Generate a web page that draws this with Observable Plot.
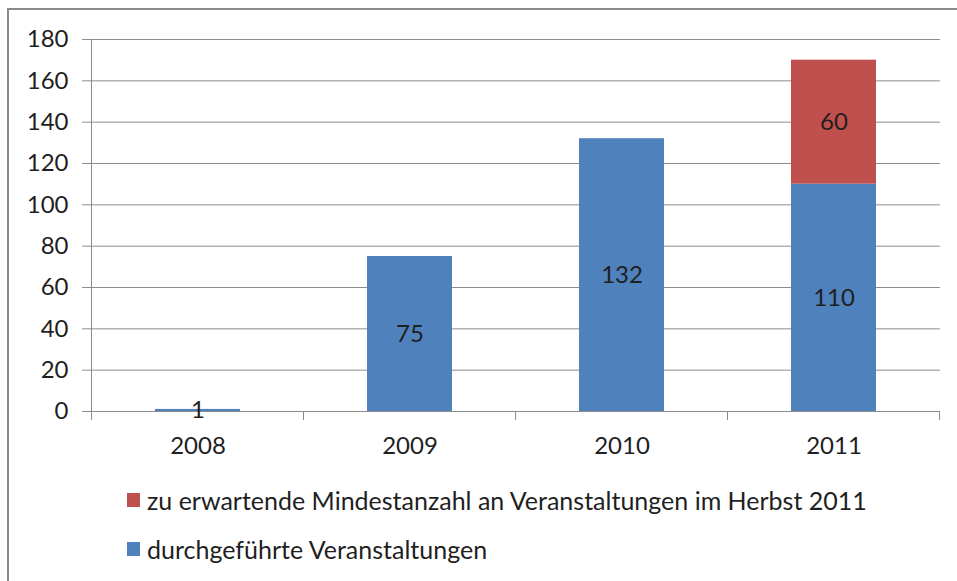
<!DOCTYPE html>
<html>
<head>
<meta charset="utf-8">
<script src="https://cdn.jsdelivr.net/npm/d3@7"></script>
<script src="https://cdn.jsdelivr.net/npm/@observablehq/plot@0.6"></script>
<style>
  html, body { margin: 0; padding: 0; background: #fff; overflow: hidden; }
  #wrap { position: relative; width: 957px; height: 581px; font-family: Lato, "Open Sans", sans-serif; }
  #frame { position: absolute; left: 7px; top: 8px; width: 1000px; height: 700px;
           border-left: 2px solid #8a8a8a; border-top: 2px solid #8a8a8a; }
  #chart { position: absolute; left: 0; top: 0; }
  #chart svg text { fill: #1f1f1f; }
  .legend { position: absolute; left: 127px; font-size: 25px; color: #1f1f1f; display: flex; align-items: center; white-space: nowrap; }
  .legend .sw { width: 13px; height: 14px; margin-right: 7px; }
</style>
</head>
<body>
<div id="wrap">
  <div id="frame"></div>
  <div id="chart"></div>
  <div id="legend"></div>
</div>
<script>
const years = ["2008", "2009", "2010", "2011"];
const durchgefuehrt = [1, 75, 132, 110];
const erwartet = [0, 0, 0, 60];
const seriesNames = ["durchgeführte Veranstaltungen", "zu erwartende Mindestanzahl an Veranstaltungen im Herbst 2011"];
const seriesColors = ["#4F81BD", "#C0504D"];
const yTicks = [0, 20, 40, 60, 80, 100, 120, 140, 160, 180];
const legendOrder = [1, 0];

const rows = [];
years.forEach((yr, i) => rows.push({year: yr, series: seriesNames[0], value: durchgefuehrt[i]}));
years.forEach((yr, i) => rows.push({year: yr, series: seriesNames[1], value: erwartet[i]}));
const data = rows.filter(d => d.value > 0);

const gridColor = "#8c8c8c";

function boundaryTicks(index, scales, values, dimensions) {
  const x = scales.x;
  const step = x(years[1]) - x(years[0]);
  const bw = typeof x.bandwidth === "function" ? x.bandwidth() : step * 0.4;
  const half = (step - bw) / 2;
  const xs = years.map(y => x(y) - half);
  xs.push(x(years[years.length - 1]) + bw + half);
  const y0 = dimensions.height - dimensions.marginBottom;
  const g = d3.create("svg:g");
  g.selectAll("line").data(xs).join("line")
    .attr("x1", d => d).attr("x2", d => d)
    .attr("y1", y0).attr("y2", y0 + 9)
    .attr("stroke", gridColor);
  g.append("line")
    .attr("x1", xs[0]).attr("x2", xs[0])
    .attr("y1", dimensions.marginTop).attr("y2", y0)
    .attr("stroke", gridColor);
  return g.node();
}

const chart = Plot.plot({
  width: 957,
  height: 468,
  marginLeft: 91,
  marginRight: 17,
  marginTop: 39,
  marginBottom: 57,
  style: {fontFamily: "Lato, 'Open Sans', sans-serif", fontSize: "24px", color: gridColor, background: "transparent"},
  x: {domain: years, paddingInner: 0.6, paddingOuter: 0.3, tickSize: 0, tickPadding: 25, label: null},
  y: {domain: [0, 180], ticks: yTicks, tickSize: 9, tickPadding: 14, label: null, tickFormat: d => String(d)},
  color: {domain: seriesNames, range: seriesColors},
  marks: [
    Plot.ruleY(yTicks, {stroke: gridColor, strokeWidth: 1}),
    Plot.barY(data, Plot.stackY({x: "year", y: "value", fill: "series"})),
    boundaryTicks,
    Plot.text(data, Plot.stackY({x: "year", y: "value", text: d => String(d.value), fill: "#1f1f1f", fontSize: 24}))
  ]
});
document.getElementById("chart").appendChild(chart);

const legend = document.getElementById("legend");
const tops = [485, 534];
legendOrder.forEach((si, k) => {
  const item = document.createElement("div");
  item.className = "legend";
  item.style.top = tops[k] + "px";
  const sw = document.createElement("div");
  sw.className = "sw";
  sw.style.background = seriesColors[si];
  const tx = document.createElement("span");
  tx.textContent = seriesNames[si];
  item.appendChild(sw);
  item.appendChild(tx);
  legend.appendChild(item);
});
</script>
</body>
</html>
